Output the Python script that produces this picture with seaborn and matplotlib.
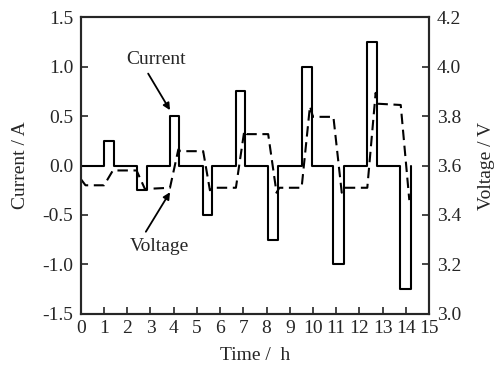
import matplotlib
matplotlib.use("Agg")
import matplotlib.pyplot as plt
import pandas as pd
import seaborn as sns

# current steps (time in h, level in A), drawn as steps-post
t_cur = [0, 1.0, 1.42, 2.44, 2.83, 3.84, 4.24, 5.27, 5.67, 6.68, 7.08,
         8.07, 8.5, 9.51, 9.94, 10.88, 11.35, 12.34, 12.77, 13.75, 14.21]
i_cur = [0, 0.25, 0, -0.25, 0, 0.5, 0, -0.5, 0, 0.75, 0,
         -0.75, 0, 1.0, 0, -1.0, 0, 1.25, 0, -1.25, 0]

# voltage trace
t_volt = [0, 0.2, 1.0, 1.38, 2.4, 2.76, 3.84, 4.2, 4.3, 5.27, 5.56, 5.7,
          6.68, 7.04, 7.15, 8.07, 8.43, 8.55, 9.51, 9.87, 10.0, 10.88,
          11.24, 11.35, 12.34, 12.7, 12.8, 13.78, 14.15]
v_volt = [3.545, 3.52, 3.52, 3.58, 3.58, 3.505, 3.51, 3.665, 3.658, 3.658,
          3.50, 3.51, 3.51, 3.74, 3.727, 3.727, 3.49, 3.51, 3.51, 3.84,
          3.797, 3.797, 3.49, 3.51, 3.51, 3.894, 3.85, 3.845, 3.46]

df_cur = pd.DataFrame({"t": t_cur, "I": i_cur})
df_volt = pd.DataFrame({"t": t_volt, "V": v_volt})

sns.set_style("ticks")
plt.rcParams["font.family"] = ["Liberation Serif", "DejaVu Serif"]
plt.rcParams["xtick.direction"] = "in"
plt.rcParams["ytick.direction"] = "in"
fs = 14

fig, ax = plt.subplots(figsize=(4.96, 3.67), dpi=100)
fig.subplots_adjust(left=0.163, right=0.865, top=0.953, bottom=0.145)

sns.lineplot(data=df_cur, x="t", y="I", ax=ax, color="black", lw=1.5,
             drawstyle="steps-post", sort=False, estimator=None)
ax.set_xlim(0, 15)
ax.set_ylim(-1.5, 1.5)
ax.set_xticks(range(0, 16))
ax.set_yticks([-1.5, -1.0, -0.5, 0.0, 0.5, 1.0, 1.5])
ax.set_yticklabels(["-1.5", "-1.0", "-0.5", "0.0", "0.5", "1.0", "1.5"])
ax.set_xlabel("Time /  h", fontsize=fs)
ax.set_ylabel("Current / A", fontsize=fs)
ax.tick_params(axis="both", length=5, width=1.2, labelsize=fs)
ax.tick_params(axis="y", pad=5.5)
ax.tick_params(axis="x", top=False, pad=4.5)
ax.xaxis.set_label_coords(0.5, -0.112)
ax.yaxis.set_label_coords(-0.150, 0.5)

ax2 = ax.twinx()
sns.lineplot(data=df_volt, x="t", y="V", ax=ax2, color="black", lw=1.5,
             linestyle=(0, (5, 2.7)), sort=False, estimator=None)
ax2.set_ylim(3.0, 4.2)
ax2.set_yticks([3.0, 3.2, 3.4, 3.6, 3.8, 4.0, 4.2])
ax2.set_yticklabels(["3.0", "3.2", "3.4", "3.6", "3.8", "4.0", "4.2"])
ax2.set_ylabel("Voltage / V", fontsize=fs)
ax2.tick_params(axis="y", length=5, width=1.2, pad=5.5, labelsize=fs, direction="in")
ax2.yaxis.set_label_coords(1.14, 0.5)

for a in (ax, ax2):
    for s in a.spines.values():
        s.set_linewidth(1.5)
        s.set_visible(True)

arrow = dict(arrowstyle="-|>", color="black", lw=1.3,
             shrinkA=0, shrinkB=0, mutation_scale=10)
ax.text(3.24, 1.07, "Current", ha="center", va="center", fontsize=fs)
ax.annotate("", xy=(3.84, 0.56), xytext=(2.90, 0.93), arrowprops=arrow)
ax.text(3.39, -0.82, "Voltage", ha="center", va="center", fontsize=fs)
ax.annotate("", xy=(3.84, -0.27), xytext=(2.80, -0.67), arrowprops=arrow)

fig.savefig("out.png", dpi=100)
